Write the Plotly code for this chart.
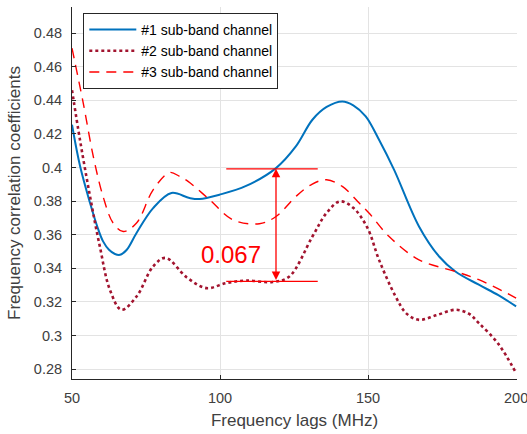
import plotly.graph_objects as go

# Frequency lags (MHz) and correlation coefficients for each sub-band channel
lag_1 = [50, 52.7, 56.1, 58.5, 60.5, 62.5, 64.5, 66.2, 68.5, 71.8, 77.4, 83.6, 89.7,
         93.1, 99.8, 108.8, 118.9, 125.6, 131.2, 136, 141.3, 145, 149.2, 153.7, 158.8,
         167.2, 174.0, 179.5, 187.4, 194, 200]
coef_1 = [0.4254, 0.401, 0.3788, 0.365, 0.356, 0.351, 0.3485, 0.348, 0.351, 0.361,
          0.3758, 0.3848, 0.3818, 0.3812, 0.3838, 0.389, 0.3996, 0.4125, 0.4284, 0.436,
          0.4393, 0.437, 0.4304, 0.4165, 0.3986, 0.3649, 0.347, 0.3381, 0.3302, 0.324,
          0.3173]

lag_2 = [50, 52.7, 56.1, 59.4, 62.8, 66.7, 71.8, 77.4, 81.6, 88.8, 95.4, 102.1, 108.8,
         117.8, 123.4, 131.2, 136, 140.5, 145, 149.8, 153.7, 159.3, 163, 167.2, 173,
         179.5, 184, 187.4, 194, 200]
coef_2 = [0.446, 0.4164, 0.3827, 0.353, 0.3272, 0.3153, 0.3232, 0.3411, 0.3462, 0.3345,
          0.3282, 0.3312, 0.3327, 0.3318, 0.3351, 0.3589, 0.373, 0.3798, 0.376, 0.364,
          0.345, 0.3232, 0.313, 0.3093, 0.312, 0.3153, 0.313, 0.3074, 0.295, 0.2776]

lag_3 = [50, 53.8, 57.2, 60.5, 63.9, 67.3, 71.8, 77.4, 83.0, 86.4, 89.2, 96.5, 104.3,
         113.3, 118.9, 125.6, 131, 136, 141.3, 147.0, 150.3, 157.1, 167.2, 179.5,
         187.4, 200]
coef_3 = [0.471, 0.4383, 0.4065, 0.3827, 0.3669, 0.3619, 0.3669, 0.3867, 0.397, 0.3946,
          0.3917, 0.3808, 0.3689, 0.3665, 0.3708, 0.3827, 0.390, 0.3927, 0.3887, 0.3788,
          0.3729, 0.3589, 0.345, 0.3381, 0.3332, 0.3223]

names = ["#1 sub-band channel", "#2 sub-band channel", "#3 sub-band channel"]

# Gap marked between channel #2 and channel #1
gap_lag = 118.9
gap_low = 0.3322
gap_value = 0.067
gap_span = [102.1, 133.0]

FONT = "Liberation Sans, Arial, Helvetica, sans-serif"
AXIS_COLOR = "#262626"
GRID_COLOR = "#e3e3e3"
SMOOTH = 1.0

fig = go.Figure()
fig.add_trace(go.Scatter(x=lag_1, y=coef_1, mode="lines", name=names[0],
                         line=dict(color="#0072BD", width=2, shape="spline", smoothing=SMOOTH)))
fig.add_trace(go.Scatter(x=lag_2, y=coef_2, mode="lines", name=names[1],
                         line=dict(color="#A2142F", width=2.6, dash="dot",
                                   shape="spline", smoothing=SMOOTH)))
fig.add_trace(go.Scatter(x=lag_3, y=coef_3, mode="lines", name=names[2],
                         line=dict(color="#FF0000", width=1.4, dash="10px,7px",
                                   shape="spline", smoothing=SMOOTH)))

gap_high = gap_low + gap_value
for yv in (gap_low, gap_high):
    fig.add_shape(type="line", xref="x", yref="y", x0=gap_span[0], x1=gap_span[1],
                  y0=yv, y1=yv, line=dict(color="#FF0000", width=1.3))

fig.add_annotation(x=gap_lag, y=gap_high, ax=gap_lag, ay=gap_low, xref="x", yref="y",
                   axref="x", ayref="y", text="", showarrow=True, arrowhead=2,
                   arrowside="end+start", arrowsize=1.3, arrowwidth=1.3,
                   arrowcolor="#FF0000")
fig.add_annotation(x=103.8, y=0.348, xref="x", yref="y", text=f"{gap_value:.3f}",
                   showarrow=False, font=dict(family=FONT, size=24, color="#FF0000"))

fig.update_layout(
    width=527, height=434,
    margin=dict(l=72, r=10, t=7, b=55),
    paper_bgcolor="white", plot_bgcolor="white",
    font=dict(family=FONT, color=AXIS_COLOR),
    showlegend=True,
    legend=dict(x=0.0254, y=0.984, xanchor="left", yanchor="top",
                bgcolor="white", bordercolor=AXIS_COLOR, borderwidth=1,
                font=dict(family=FONT, size=14, color="#000000"),
                itemwidth=47, tracegroupgap=0),
)
fig.update_xaxes(
    range=[50, 200.3], tickvals=[50, 100, 150, 200],
    showgrid=True, gridcolor=GRID_COLOR, gridwidth=1,
    showline=True, linecolor=AXIS_COLOR, linewidth=1,
    ticks="inside", ticklen=4, tickcolor=AXIS_COLOR,
    tickfont=dict(size=14.5, color="#404040"), ticklabelstandoff=6,
    ticklabeloverflow="allow", automargin=False,
    zeroline=False,
    title=dict(text="Frequency lags (MHz)", font=dict(size=17, color="#404040"), standoff=8),
)
fig.update_yaxes(
    range=[0.2741, 0.4955], tick0=0.28, dtick=0.02,
    showgrid=True, gridcolor=GRID_COLOR, gridwidth=1,
    showline=True, linecolor=AXIS_COLOR, linewidth=1,
    ticks="inside", ticklen=4, tickcolor=AXIS_COLOR,
    tickfont=dict(size=14.5, color="#404040"), ticklabelstandoff=6,
    automargin=False,
    zeroline=False,
    title=dict(text="Frequency correlation coefficients", font=dict(size=17, color="#404040"),
               standoff=8),
)

fig.write_html("out.html")
